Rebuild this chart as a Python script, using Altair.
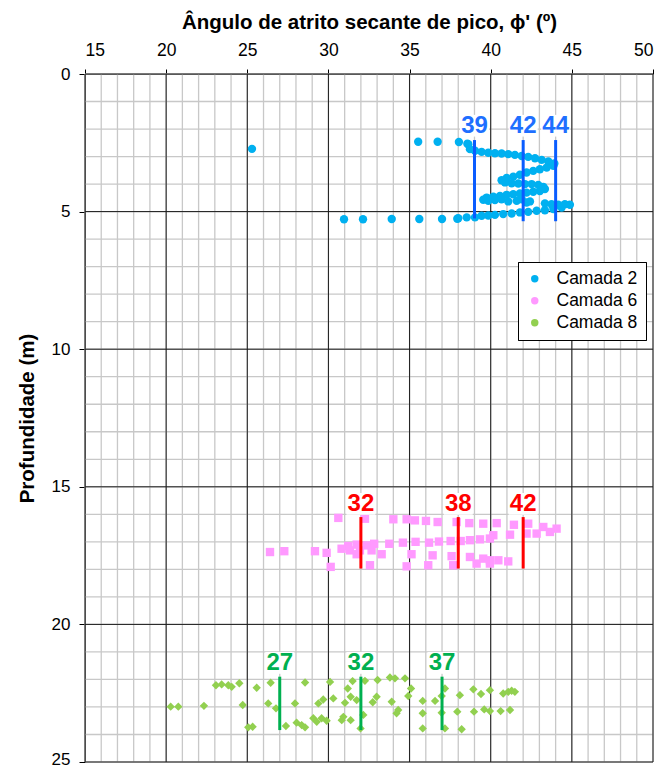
import altair as alt
import pandas as pd

# ---------------- data ----------------
c2_phi = [25.29, 35.53, 36.73, 38.04, 38.56, 38.62, 38.72, 39.03, 39.44, 39.85, 40.26, 40.67, 41.08,
          41.49, 41.91, 42.31, 42.73, 43.14, 43.55, 43.92, 43.86, 43.45, 43.03, 42.62, 42.21,
          41.80, 41.39, 40.98, 40.67, 40.88, 41.29, 41.70, 42.11, 42.52, 42.93, 43.24, 43.34,
          43.03, 42.62, 42.21, 41.80, 41.39, 40.98, 40.57, 40.16, 39.75, 39.54, 39.85, 40.26,
          40.67, 41.08, 41.60, 41.91, 42.21, 42.42, 43.34, 43.75, 44.16, 44.57, 44.88, 44.37,
          43.86, 43.34, 42.83, 42.31, 41.80, 41.29, 40.77, 40.26, 39.85, 39.44, 39.03, 38.52,
          38.00, 37.94, 37.00, 35.60, 33.90, 32.13, 30.96]
c2_z = [2.72, 2.46, 2.46, 2.47, 2.53, 2.55, 2.73, 2.79, 2.83, 2.86, 2.88, 2.89, 2.91,
        2.94, 2.98, 3.01, 3.06, 3.12, 3.18, 3.25, 3.34, 3.40, 3.46, 3.52, 3.58,
        3.66, 3.73, 3.78, 3.86, 3.94, 3.97, 3.98, 4.00, 4.00, 4.03, 4.10, 4.18,
        4.25, 4.28, 4.31, 4.34, 4.37, 4.39, 4.43, 4.46, 4.49, 4.57, 4.61, 4.58,
        4.55, 4.63, 4.61, 4.55, 4.67, 4.63, 4.70, 4.73, 4.75, 4.73, 4.75, 4.85,
        4.91, 4.95, 4.97, 5.01, 5.03, 5.07, 5.09, 5.12, 5.14, 5.15, 5.21, 5.21,
        5.24, 5.26, 5.27, 5.27, 5.27, 5.28, 5.28]

c6_phi = [30.61, 32.25, 34.00, 34.82, 35.33, 36.01, 36.73, 37.90, 38.68, 39.54, 40.37, 41.43, 42.31,
          43.24, 44.06, 43.65, 42.83, 42.21, 41.19, 40.16, 39.95, 39.34, 38.72, 38.15, 37.53,
          36.81, 36.20, 35.37, 34.59, 33.75, 32.82, 32.35, 31.74, 31.22, 30.81, 31.33, 31.94,
          32.66, 33.28, 31.74, 26.40, 27.28, 29.17, 29.89, 30.14, 32.56, 35.12, 34.82, 36.15,
          36.42, 37.59, 37.69, 38.72, 39.13, 39.54, 39.95, 40.47, 41.08, 39.95]
c6_z = [16.13, 16.16, 16.18, 16.18, 16.22, 16.24, 16.28, 16.28, 16.32, 16.34, 16.32, 16.38, 16.34,
        16.46, 16.52, 16.64, 16.70, 16.70, 16.74, 16.76, 16.88, 16.91, 16.94, 16.97, 16.97,
        16.99, 17.03, 17.00, 17.03, 17.07, 17.07, 17.13, 17.10, 17.15, 17.25, 17.31, 17.31,
        17.31, 17.45, 17.45, 17.37, 17.34, 17.34, 17.40, 17.91, 17.85, 17.45, 17.89, 17.85,
        17.49, 17.52, 17.85, 17.55, 17.79, 17.61, 17.67, 17.67, 17.71, 17.79]

c8_phi = [20.28, 20.75, 22.33, 23.07, 23.42, 23.83, 24.04, 24.51, 24.72, 25.06, 25.33, 25.58, 26.29,
          26.44, 26.77, 27.38, 27.94, 28.04, 28.35, 28.56, 28.56, 29.07, 29.28, 29.38, 29.58,
          29.68, 29.89, 30.10, 30.30, 30.82, 30.92, 31.02, 31.19, 31.37, 31.37, 31.49, 31.74,
          31.98, 32.15, 32.25, 32.73, 32.97, 33.03, 33.79, 34.10, 34.30, 34.20, 33.90, 34.72,
          34.92, 35.09, 35.81, 35.81, 35.81, 36.57, 36.98, 36.98, 37.18, 37.18, 38.10, 38.21,
          37.94, 38.93, 38.97, 39.40, 39.60, 39.95, 39.95, 40.61, 40.77, 41.08, 41.19, 41.49,
          41.29]
c8_z = [22.99, 22.99, 22.96, 22.21, 22.18, 22.21, 22.27, 22.14, 22.93, 23.74, 23.72, 22.30, 22.87,
        22.12, 23.05, 23.69, 22.87, 23.57, 23.66, 23.74, 22.11, 23.41, 23.54, 22.87, 23.41,
        22.73, 23.50, 22.09, 22.69, 23.48, 23.36, 22.85, 22.33, 23.48, 22.63, 22.06, 22.75,
        23.78, 23.29, 22.05, 22.83, 22.63, 22.02, 21.93, 21.96, 23.11, 23.23, 22.81, 21.96,
        22.60, 22.33, 22.78, 23.23, 23.78, 22.78, 22.60, 23.21, 22.33, 23.78, 22.57, 23.81,
        23.17, 22.36, 23.17, 22.53, 23.09, 22.39, 23.15, 23.15, 22.51, 22.45, 23.11, 22.45,
        22.41]

series_names = ["Camada 2", "Camada 6", "Camada 8"]
series_colors = ["#00B0F0", "#FF99FF", "#92D050"]
series_shapes = ["circle", "square", "diamond"]

# reference lines (value, top depth, bottom depth, label depth, group)
ref_values = [39, 42, 44, 32, 38, 42, 27, 32, 37]
ref_top = [2.40, 2.40, 2.40, 16.10, 16.10, 16.10, 21.90, 21.90, 21.90]
ref_bot = [5.25, 5.35, 5.35, 17.97, 17.97, 17.97, 23.84, 23.84, 23.84]
ref_label_z = [1.88, 1.88, 1.88, 15.62, 15.62, 15.62, 21.40, 21.40, 21.40]
ref_group = ["Camada 2"] * 3 + ["Camada 6"] * 3 + ["Camada 8"] * 3
ref_line_colors = ["#0A5CFF", "#FF0000", "#00B050"]
ref_text_colors = ["#1E6FFF", "#FF0000", "#00B050"]

x_minor = list(range(15, 51))
x_major = list(range(15, 51, 5))
y_minor = list(range(0, 26))
y_major = list(range(0, 26, 5))

# ---------------- tables ----------------
pts = pd.concat([
    pd.DataFrame({"phi": c2_phi, "z": c2_z, "camada": "Camada 2"}),
    pd.DataFrame({"phi": c6_phi, "z": c6_z, "camada": "Camada 6"}),
    pd.DataFrame({"phi": c8_phi, "z": c8_z, "camada": "Camada 8"}),
], ignore_index=True)

refs = pd.DataFrame({"v": ref_values, "top": ref_top, "bot": ref_bot,
                     "lz": ref_label_z, "g": ref_group,
                     "txt": [str(v) for v in ref_values]})

xs = alt.Scale(domain=[15, 50], nice=False, zero=False)
ys = alt.Scale(domain=[0, 25], reverse=True, nice=False, zero=False)

FONT = "Liberation Sans"

gx_minor = alt.Chart(pd.DataFrame({"x": x_minor})).mark_rule(
    color="#C8C8C8", strokeWidth=1.3).encode(x=alt.X("x:Q", scale=xs))
gy_minor = alt.Chart(pd.DataFrame({"y": y_minor})).mark_rule(
    color="#C8C8C8", strokeWidth=1.3).encode(y=alt.Y("y:Q", scale=ys))
gx_major = alt.Chart(pd.DataFrame({"x": x_major})).mark_rule(
    color="#1A1A1A", strokeWidth=1).encode(x=alt.X("x:Q", scale=xs))
gy_major = alt.Chart(pd.DataFrame({"y": y_major})).mark_rule(
    color="#1A1A1A", strokeWidth=1).encode(y=alt.Y("y:Q", scale=ys))

leg = alt.Legend(title=None, orient="none", legendX=433, legendY=188,
                 labelFontSize=17.5, labelFont=FONT, labelColor="black", labelOffset=13,
                 symbolSize=55, strokeColor="black", fillColor="white",
                 padding=8, rowPadding=3, symbolStrokeWidth=0)

points = alt.Chart(pts).mark_point(filled=True, opacity=1, size=70).encode(
    x=alt.X("phi:Q", scale=xs,
            axis=alt.Axis(orient="top", values=x_major, title="Ângulo de atrito secante de pico, ϕ' (º)",
                          titleFontSize=20.5, titleFont=FONT, titleFontWeight="bold", titleColor="black",
                          labelFontSize=17.5, labelFont=FONT, labelColor="black", labelPadding=10,
                          tickSize=5, tickColor="black", domainColor="black", grid=False,
                          titlePadding=9)),
    y=alt.Y("z:Q", scale=ys,
            axis=alt.Axis(orient="left", values=y_major, title="Profundidade (m)",
                          titleFontSize=20.5, titleFont=FONT, titleFontWeight="bold", titleColor="black",
                          labelFontSize=17, labelFont=FONT, labelColor="black", labelPadding=9,
                          labelOffset={"condition": {"test": "datum.value == 25", "value": -3}, "value": 0},
                          tickSize=6, tickColor="black", domainColor="black", grid=False,
                          titlePadding=14)),
    color=alt.Color("camada:N", scale=alt.Scale(domain=series_names, range=series_colors), legend=leg),
    shape=alt.Shape("camada:N", scale=alt.Scale(domain=series_names, range=series_shapes), legend=leg),
)

lines = alt.Chart(refs).mark_rule(strokeWidth=3).encode(
    x=alt.X("v:Q", scale=xs),
    y=alt.Y("top:Q", scale=ys),
    y2="bot:Q",
    color=alt.Color("g:N", scale=alt.Scale(domain=series_names, range=ref_line_colors), legend=None),
)

boxes = alt.Chart(refs).mark_point(
    shape="M-1,-0.75L1,-0.75L1,0.75L-1,0.75Z", filled=True, fill="white", opacity=1, size=840
).encode(x=alt.X("v:Q", scale=xs), y=alt.Y("lz:Q", scale=ys))

labels = alt.Chart(refs).mark_text(fontSize=24, font=FONT, fontWeight="bold",
                                   baseline="middle", align="center").encode(
    x=alt.X("v:Q", scale=xs),
    y=alt.Y("lz:Q", scale=ys),
    text="txt:N",
    color=alt.Color("g:N", scale=alt.Scale(domain=series_names, range=ref_text_colors), legend=None),
)

chart = alt.layer(gx_minor, gy_minor, gx_major, gy_major, points, lines, boxes, labels).resolve_scale(
    color="independent"
).properties(
    width=568, height=688,
    padding={"left": 9, "top": 4, "right": 0, "bottom": 0},
    background="white",
).configure_view(stroke=None)

chart.save("out.html", embed_options={"renderer": "svg", "actions": False})
